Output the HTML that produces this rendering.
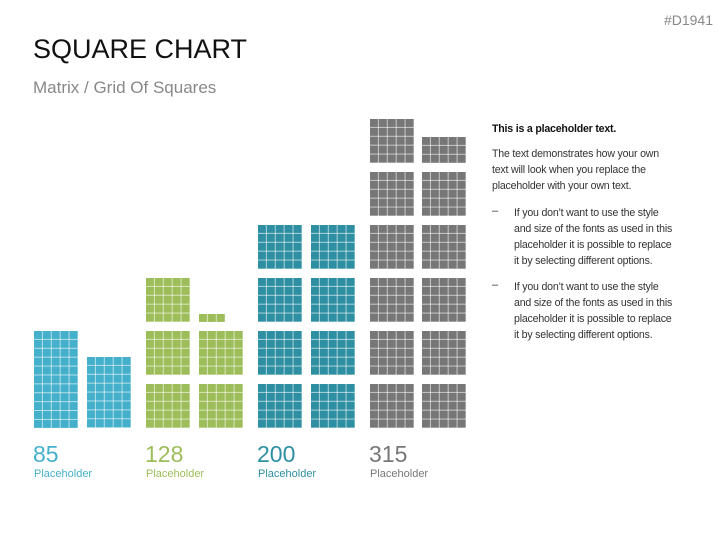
<!DOCTYPE html><html><head><style>
body{margin:0;width:727px;height:545px;background:#fff;font-family:"Liberation Sans",sans-serif;position:relative;overflow:hidden}
.a{position:absolute}
.b{position:absolute;background-image:linear-gradient(to right,transparent 7.9px,rgba(255,255,255,.6) 7.9px),linear-gradient(to bottom,transparent 7.9px,rgba(255,255,255,.6) 7.9px);background-size:8.9px 8.9px;background-position:0 0}
.c1{background-color:#45b0cb}.c2{background-color:#9dbd5a}.c3{background-color:#2e8fa3}.c4{background-color:#777}
.n{position:absolute;font-size:23px;top:441px}
.l{position:absolute;font-size:11px;top:468px}
.t{position:absolute;left:492px;width:190px;font-size:10.6px;line-height:16px;color:#333;letter-spacing:-0.2px}
</style></head><body>
<div class="a" style="right:14px;top:12px;font-size:14px;color:#888">#D1941</div>
<div class="a" style="left:33px;top:34px;font-size:27px;color:#111">SQUARE CHART</div>
<div class="a" style="left:33px;top:78px;font-size:17px;color:#888">Matrix / Grid Of Squares</div>

<div class="b c1" style="left:34px;top:331px;width:44px;height:97px"></div>
<div class="b c1" style="left:87px;top:357px;width:44px;height:71px"></div>

<div class="b c2" style="left:146px;top:278px;width:44px;height:44px"></div>
<div class="b c2" style="left:146px;top:331px;width:44px;height:44px"></div>
<div class="b c2" style="left:146px;top:384px;width:44px;height:44px"></div>
<div class="b c2" style="left:199px;top:314px;width:26px;height:8px"></div>
<div class="b c2" style="left:199px;top:331px;width:44px;height:44px"></div>
<div class="b c2" style="left:199px;top:384px;width:44px;height:44px"></div>

<div class="b c3" style="left:258px;top:225px;width:44px;height:44px"></div>
<div class="b c3" style="left:258px;top:278px;width:44px;height:44px"></div>
<div class="b c3" style="left:258px;top:331px;width:44px;height:44px"></div>
<div class="b c3" style="left:258px;top:384px;width:44px;height:44px"></div>
<div class="b c3" style="left:311px;top:225px;width:44px;height:44px"></div>
<div class="b c3" style="left:311px;top:278px;width:44px;height:44px"></div>
<div class="b c3" style="left:311px;top:331px;width:44px;height:44px"></div>
<div class="b c3" style="left:311px;top:384px;width:44px;height:44px"></div>

<div class="b c4" style="left:370px;top:119px;width:44px;height:44px"></div>
<div class="b c4" style="left:370px;top:172px;width:44px;height:44px"></div>
<div class="b c4" style="left:370px;top:225px;width:44px;height:44px"></div>
<div class="b c4" style="left:370px;top:278px;width:44px;height:44px"></div>
<div class="b c4" style="left:370px;top:331px;width:44px;height:44px"></div>
<div class="b c4" style="left:370px;top:384px;width:44px;height:44px"></div>
<div class="b c4" style="left:422px;top:137px;width:44px;height:26px"></div>
<div class="b c4" style="left:422px;top:172px;width:44px;height:44px"></div>
<div class="b c4" style="left:422px;top:225px;width:44px;height:44px"></div>
<div class="b c4" style="left:422px;top:278px;width:44px;height:44px"></div>
<div class="b c4" style="left:422px;top:331px;width:44px;height:44px"></div>
<div class="b c4" style="left:422px;top:384px;width:44px;height:44px"></div>

<div class="n" style="left:33px;color:#45b0cb">85</div><div class="l" style="left:34px;color:#45b0cb">Placeholder</div>
<div class="n" style="left:145px;color:#9dbd5a">128</div><div class="l" style="left:146px;color:#9dbd5a">Placeholder</div>
<div class="n" style="left:257px;color:#2e8fa3">200</div><div class="l" style="left:258px;color:#2e8fa3">Placeholder</div>
<div class="n" style="left:369px;color:#777">315</div><div class="l" style="left:370px;color:#777">Placeholder</div>

<div class="t" style="top:121px;font-weight:bold;color:#111">This is a placeholder text.</div>
<div class="t" style="top:146px">The text demonstrates how your own<br>text will look when you replace the<br>placeholder with your own text.</div>
<div class="a" style="left:492px;top:205px;font-size:11px;color:#333">–</div>
<div class="t" style="left:514px;top:205px">If you don’t want to use the style<br>and size of the fonts as used in this<br>placeholder it is possible to replace<br>it by selecting different options.</div>
<div class="a" style="left:492px;top:279px;font-size:11px;color:#333">–</div>
<div class="t" style="left:514px;top:279px">If you don’t want to use the style<br>and size of the fonts as used in this<br>placeholder it is possible to replace<br>it by selecting different options.</div>
</body></html>
